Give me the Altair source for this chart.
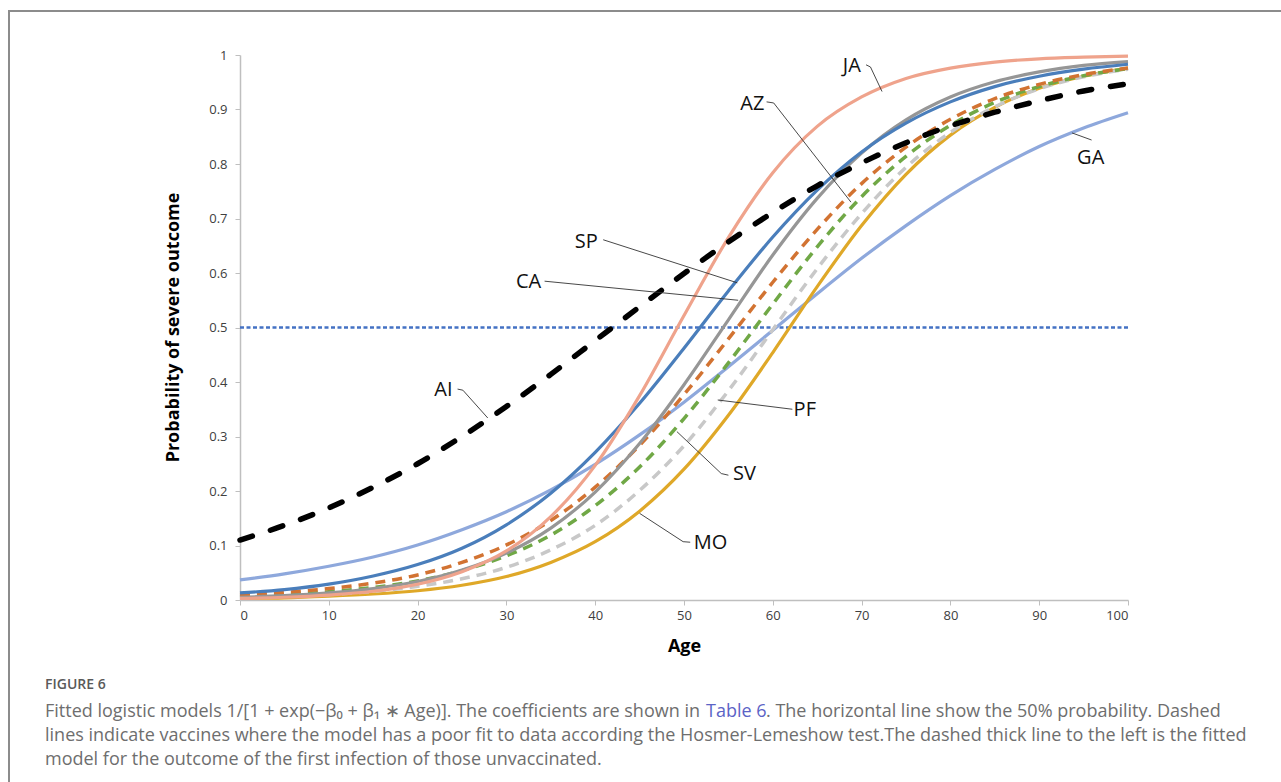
import altair as alt
import pandas as pd

# ---- data ----
ages = list(range(0, 101, 5))

AI = [0.110, 0.137, 0.169, 0.207, 0.250, 0.300, 0.355, 0.414, 0.476, 0.538, 0.599,
      0.657, 0.711, 0.760, 0.802, 0.839, 0.870, 0.895, 0.916, 0.934, 0.947]
JA = [0.003, 0.005, 0.009, 0.016, 0.029, 0.052, 0.090, 0.153, 0.247, 0.375, 0.522,
      0.665, 0.784, 0.869, 0.923, 0.957, 0.976, 0.987, 0.993, 0.996, 0.998]
SP = [0.013, 0.019, 0.029, 0.044, 0.065, 0.095, 0.138, 0.196, 0.271, 0.361, 0.462,
      0.567, 0.666, 0.752, 0.822, 0.875, 0.914, 0.942, 0.961, 0.974, 0.983]
CA = [0.005, 0.008, 0.013, 0.021, 0.034, 0.055, 0.086, 0.132, 0.198, 0.287, 0.395,
      0.514, 0.633, 0.737, 0.820, 0.881, 0.923, 0.951, 0.969, 0.981, 0.988]
AZ = [0.009, 0.014, 0.021, 0.031, 0.046, 0.069, 0.101, 0.146, 0.207, 0.284, 0.377,
      0.479, 0.583, 0.680, 0.764, 0.831, 0.882, 0.920, 0.946, 0.964, 0.976]
SV = [0.006, 0.010, 0.015, 0.023, 0.035, 0.054, 0.081, 0.119, 0.173, 0.244, 0.333,
      0.435, 0.543, 0.648, 0.740, 0.814, 0.871, 0.913, 0.942, 0.962, 0.975]
PF = [0.004, 0.007, 0.010, 0.016, 0.025, 0.039, 0.060, 0.092, 0.137, 0.201, 0.283,
      0.384, 0.496, 0.608, 0.709, 0.794, 0.858, 0.905, 0.938, 0.960, 0.974]
MO = [0.003, 0.004, 0.007, 0.011, 0.017, 0.027, 0.043, 0.069, 0.107, 0.163, 0.240,
      0.339, 0.454, 0.575, 0.687, 0.781, 0.853, 0.904, 0.939, 0.961, 0.976]
GA = [0.037, 0.048, 0.062, 0.079, 0.101, 0.129, 0.162, 0.202, 0.249, 0.303, 0.363,
      0.428, 0.495, 0.562, 0.627, 0.687, 0.742, 0.790, 0.832, 0.866, 0.894]

series_values = {"GA": GA, "MO": MO, "PF": PF, "SV": SV, "AZ": AZ,
                 "CA": CA, "SP": SP, "JA": JA, "AI": AI}
series_names = ["GA", "MO", "PF", "SV", "AZ", "CA", "SP", "JA", "AI"]
series_colors = ["#8EA8DC", "#DFA828", "#C8C8C8", "#70A846", "#D27332",
                 "#969696", "#4A7EBB", "#EFA38C", "#000000"]
dashed_series = ["PF", "SV", "AZ"]

half_line = 0.5

label_names = ["JA", "AZ", "GA", "SP", "CA", "AI", "PF", "SV", "MO"]
label_age = [68.9, 57.7, 95.8, 39.0, 32.5, 22.9, 63.6, 56.8, 53.0]
label_p = [0.980, 0.910, 0.811, 0.657, 0.583, 0.385, 0.349, 0.231, 0.104]

leader_label = ["JA", "JA", "JA", "AZ", "AZ", "AZ", "GA", "GA", "SP", "SP",
                "CA", "CA", "AI", "AI", "AI", "PF", "PF", "SV", "SV", "SV",
                "MO", "MO", "MO"]
leader_order = [0, 1, 2, 0, 1, 2, 0, 1, 0, 1, 0, 1, 0, 1, 2, 0, 1, 0, 1, 2, 0, 1, 2]
leader_age = [70.5, 71.0, 72.3, 59.3, 60.1, 68.8, 95.9, 93.7, 40.9, 56.0,
              34.3, 56.1, 24.5, 25.1, 27.9, 62.2, 53.8, 49.2, 54.2, 55.0,
              45.0, 49.9, 50.7]
leader_p = [0.982, 0.978, 0.933, 0.914, 0.912, 0.730, 0.844, 0.857, 0.661, 0.582,
            0.585, 0.550, 0.387, 0.385, 0.334, 0.350, 0.367, 0.309, 0.232, 0.229,
            0.159, 0.107, 0.106]

x_ticks = list(range(0, 101, 10))
y_ticks = [0, 0.1, 0.2, 0.3, 0.4, 0.5, 0.6, 0.7, 0.8, 0.9, 1]

caption_head = "FIGURE 6"
caption_l1a = "Fitted logistic models 1/[1 + exp(\u2212\u03b2\u2080 + \u03b2\u2081 \u2217 Age)]. The coefficients are shown in"
caption_link = "Table 6"
caption_l1c = ". The horizontal line show the 50% probability. Dashed"
caption_rest = [
    "lines indicate vaccines where the model has a poor fit to data according the Hosmer-Lemeshow test.The dashed thick line to the left is the fitted",
    "model for the outcome of the first infection of those unvaccinated.",
]

# ---- tables ----
rows = []
for name in series_names:
    for a, v in zip(ages, series_values[name]):
        rows.append({"series": name, "age": a, "p": v})
df = pd.DataFrame(rows)
labels_df = pd.DataFrame({"label": label_names, "age": label_age, "p": label_p})
leaders_df = pd.DataFrame({"label": leader_label, "ord": leader_order,
                           "age": leader_age, "p": leader_p})
one = pd.DataFrame({"k": [0]})

FONT = "Open Sans"

x_enc = alt.X("age:Q", scale=alt.Scale(domain=[0, 100], nice=False),
              axis=alt.Axis(values=x_ticks, title="Age", grid=False,
                            labelFont=FONT, labelFontSize=13, labelColor="#404040",
                            labelPadding=4, tickSize=5, tickColor="#BFBFBF",
                            domainColor="#BFBFBF", domainWidth=1.5,
                            titleFont=FONT, titleFontSize=18, titleFontWeight="bold",
                            titleColor="#000000", titleY=46, titleBaseline="middle"))
y_enc = alt.Y("p:Q", scale=alt.Scale(domain=[0, 1], nice=False),
              axis=alt.Axis(values=y_ticks, format=".1~f",
                            title="Probability of severe outcome", grid=False,
                            labelFont=FONT, labelFontSize=13, labelColor="#404040",
                            labelPadding=8, tickSize=5, tickColor="#BFBFBF",
                            domainColor="#BFBFBF", domainWidth=1.5,
                            titleFont=FONT, titleFontSize=18, titleFontWeight="bold",
                            titleColor="#000000", titleX=-67, titleY=272,
                            titleBaseline="middle", titleAlign="center"))
color_enc = alt.Color("series:N", scale=alt.Scale(domain=series_names, range=series_colors),
                      legend=None)

layers = []

# horizontal 50% line
layers.append(
    alt.Chart(pd.DataFrame({"h": [half_line]})).mark_rule(
        color="#4472C4", strokeWidth=2.5, strokeDash=[4, 2.5]
    ).encode(y=alt.Y("h:Q"))
)

for name in series_names:
    sub = df[df["series"] == name]
    if name == "AI":
        mark = alt.Chart(sub).mark_line(interpolate="monotone", strokeWidth=5.5,
                                        strokeDash=[13, 19], strokeCap="round")
    elif name in dashed_series:
        mark = alt.Chart(sub).mark_line(interpolate="monotone", strokeWidth=3.5,
                                        strokeDash=[10, 7])
    else:
        mark = alt.Chart(sub).mark_line(interpolate="monotone", strokeWidth=3.2)
    layers.append(mark.encode(x=x_enc, y=y_enc, color=color_enc))

# leader lines
layers.append(
    alt.Chart(leaders_df).mark_line(color="#333333", strokeWidth=0.9).encode(
        x=x_enc, y=y_enc, detail="label:N", order="ord:Q")
)
# series labels
layers.append(
    alt.Chart(labels_df).mark_text(font=FONT, fontSize=20, color="#111111",
                                   align="center", baseline="middle").encode(
        x=x_enc, y=y_enc, text="label:N")
)

# figure frame (top and left border)
layers.append(alt.Chart(one).mark_rule(color="#8C8C8C", strokeWidth=2).encode(
    x=alt.value(-231), x2=alt.value(1045), y=alt.value(-44)))
layers.append(alt.Chart(one).mark_rule(color="#8C8C8C", strokeWidth=2).encode(
    x=alt.value(-231), y=alt.value(-45), y2=alt.value(730)))

# caption
cap_style = dict(font=FONT, fontSize=18, align="left", baseline="middle")
layers.append(alt.Chart(one).mark_text(font=FONT, fontSize=14, fontWeight=600,
                                       color="#5A5A5A", align="left", baseline="middle").encode(
    x=alt.value(-195), y=alt.value(630), text=alt.value(caption_head)))
layers.append(alt.Chart(one).mark_text(color="#6E6E6E", **cap_style).encode(
    x=alt.value(-195), y=alt.value(657), text=alt.value(caption_l1a)))
layers.append(alt.Chart(one).mark_text(color="#5B63C6", **cap_style).encode(
    x=alt.value(466), y=alt.value(657), text=alt.value(caption_link)))
layers.append(alt.Chart(one).mark_text(color="#6E6E6E", **cap_style).encode(
    x=alt.value(526), y=alt.value(657), text=alt.value(caption_l1c)))
layers.append(alt.Chart(one).mark_text(color="#6E6E6E", lineBreak="\n", lineHeight=24,
                                       **cap_style).encode(
    x=alt.value(-195), y=alt.value(681), text=alt.value("\n".join(caption_rest))))

chart = alt.layer(*layers).properties(
    width=888, height=545,
    autosize=alt.AutoSizeParams(type="none"),
    padding={"left": 240, "top": 55, "right": 153, "bottom": 182},
    background="white",
).configure_view(stroke=None)

chart.save("out.html", embed_options={"renderer": "svg", "actions": False})
